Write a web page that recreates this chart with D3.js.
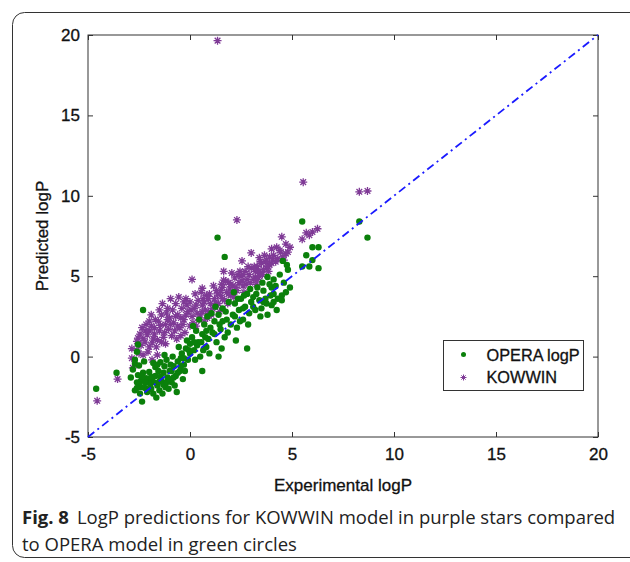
<!DOCTYPE html>
<html>
<head>
<meta charset="utf-8">
<script src="https://cdn.jsdelivr.net/npm/d3@7"></script>
<style>
  body { margin: 0; background: #fff; }
  .tick text, .lbl { font-family: "Liberation Sans", Arial, Helvetica, sans-serif; font-size: 17px; fill: #111; stroke: #111; stroke-width: 0.3px; }
  .legend-text { font-size: 16.3px; }
  .tick line { stroke: #333; }
  .caption { font-family: "Open Sans", "Noto Sans", sans-serif; font-size: 18.5px; fill: #222; }
</style>
</head>
<body>
<div id="chart"></div>
<script>
// axis ticks
const xTicks = [-5, 0, 5, 10, 15, 20];
const yTicks = [-5, 0, 5, 10, 15, 20];

// OPERA logP: [experimental, predicted]
const operaPoints = [
  [-4.6,-2.0],[-3.6,-1.0],[-2.3,2.9],[1.35,7.4],[1.7,6.2],[5.5,8.4],[8.3,8.4],[8.7,7.4],
  [6.0,6.8],[6.3,6.8],[5.7,6.3],[6.0,6.0],[5.5,5.6],[5.85,5.6],[6.3,5.5],[4.75,5.7],
  [4.55,5.95],[4.8,5.4],[4.1,4.8],[3.8,4.95],[4.0,4.3],[0.6,-0.9],[1.4,0.0],[2.8,0.5],[2.25,1.0],
  [-2.8,-0.8],[-2.7,-0.2],[-2.7,-0.45],[-2.6,-1.6],[-2.55,-1.15],[-2.7,-2.1],[-2.45,-2.3],[-2.2,-1.95],
  [-2.35,-2.8],[-2.5,-0.55],[-2.6,0.3],[-2.4,-1.5],[-2.3,-1.0],[-2.1,-2.2],[-2.0,-1.6],[-2.55,0.75],
  [-2.25,-0.3],[-2.9,-1.3],[-2.15,-1.35],[-2.4,-1.9],
  [-1.86,-1.45],[-2.0,-0.95],[-1.7,-0.65],[-1.45,-0.35],[-1.9,-2.0],[-1.8,-2.3],[-1.6,-1.8],[-1.5,-2.1],
  [-1.4,-1.5],[-1.3,-1.0],[-1.2,-1.9],[-1.1,-1.3],[-1.7,-1.2],[-1.55,-0.9],[-1.25,-0.6],[-1.05,-2.0],
  [-1.35,-2.3],[-1.95,-1.7],[-1.15,-0.2],[-1.65,-2.55],[-1.0,-0.9],[-1.45,-1.25],[-1.8,-0.4],[-1.25,0.1],
  [-0.9,-1.6],[-0.8,-0.6],[-0.7,-1.2],[-0.6,-0.3],[-0.5,-0.9],[-0.4,0.2],[-0.3,-0.5],[-0.2,0.5],
  [-0.1,-0.2],[0.0,0.8],[-0.85,0.0],[-0.75,-1.8],[-0.55,0.6],[-0.35,-1.4],[-0.15,1.0],[-0.95,-0.5],
  [-0.65,-2.2],[-0.25,-0.9],[0.0,0.2],[-0.45,-0.1],
  [0.1,1.2],[0.2,0.4],[0.3,1.6],[0.4,0.9],[0.5,0.0],[0.6,1.4],[0.7,2.0],[0.8,0.6],[0.9,1.1],[1.0,1.8],
  [0.25,-0.2],[0.45,2.3],[0.65,0.4],[0.85,2.5],[0.15,1.9],[0.95,0.2],[0.35,0.7],[0.75,1.2],
  [1.1,1.5],[1.2,2.2],[1.3,0.9],[1.4,2.6],[1.5,1.7],[1.6,3.0],[1.7,1.2],[1.8,2.3],[1.9,3.4],[2.0,2.0],
  [1.25,3.1],[1.55,0.5],[1.85,1.5],[1.45,2.0],[1.75,2.8],[1.05,2.7],
  [2.1,2.6],[2.2,3.3],[2.3,1.8],[2.4,2.9],[2.5,3.6],[2.6,2.3],[2.7,3.1],[2.8,3.9],[2.9,2.7],[3.0,3.4],
  [2.15,4.0],[2.45,2.2],[2.65,3.8],[2.85,2.0],[2.35,3.6],[2.95,4.2],
  [3.1,3.7],[3.2,2.9],[3.3,4.3],[3.4,3.5],[3.5,3.0],[3.6,4.1],[3.7,3.6],[3.8,2.6],[3.9,4.5],[4.0,3.2],
  [3.25,3.9],[3.55,4.6],[3.75,3.3],[3.95,3.8],[3.45,2.5],
  [4.1,3.9],[4.2,4.4],[4.3,3.6],[4.5,3.5],[4.5,3.8],[4.6,4.6],[4.7,4.0],[4.4,5.1],[4.9,4.3],[4.25,2.9],
  [-2.5,-1.75],[-2.2,-1.6],[-2.0,-2.05],[-1.75,-1.6],[-1.5,-1.55],[-1.3,-1.75],[-1.15,-1.6],[-1.0,-1.4],
  [-0.8,-1.3],[-0.6,-1.0],[-0.45,-0.6],[-0.3,-0.1],[-0.05,0.4],[0.2,0.9],[0.55,0.9],[-2.35,-1.25],
  [-1.9,-1.25],[-1.6,-0.5],[-0.9,-0.9],[-2.6,-1.95],[0.8,1.6],[1.2,1.4],[1.6,2.2],[2.2,2.5],[2.6,3.0],
  [3.1,3.1],[3.6,3.4],[4.1,3.4]
];

// KOWWIN: [experimental, predicted]
const kowwinPoints = [
  [1.35,19.65],[2.3,8.5],[5.55,10.85],[8.3,10.25],[8.7,10.3],[-4.55,-2.75],[-3.55,-1.4],[0.1,4.8],
  [0.6,4.25],[6.25,7.95],[6.0,7.75],[5.85,7.55],[5.7,7.7],[5.5,7.3],[4.5,7.45],[4.7,7.0],[4.8,6.5],
  [4.45,6.5],[4.0,6.7],[4.55,6.2],[3.4,6.15],[3.45,5.9],[3.0,6.45],[4.05,6.0],[3.9,5.7],[3.75,5.5],
  [3.45,5.2],[3.2,4.95],[1.65,5.3],[1.65,4.75],[2.55,5.95],[-2.85,-0.1],[-2.8,-0.7],[-2.85,0.5],
  [-2.55,1.15],[-2.1,1.35],[-2.3,0.1],[-2.06,0.3],[-2.4,0.7],[-2.6,0.4],[-2.2,0.9],[-2.0,1.6],
  [-2.45,1.4],[-2.15,2.0],[-2.6,0.95],[-2.35,1.8],[-2.0,0.6],
  [-1.86,0.85],[-1.6,1.05],[-1.6,0.1],[-1.86,-0.2],[-1.9,1.9],[-1.7,2.3],[-1.5,1.6],[-1.4,2.6],
  [-1.3,1.2],[-1.2,2.0],[-1.1,3.0],[-1.75,1.4],[-1.5,2.9],[-1.2,0.8],[-1.05,1.7],[-1.9,2.6],
  [-1.35,3.3],[-1.65,0.6],[-1.0,2.4],[-1.45,1.95],
  [-0.9,1.3],[-0.8,2.1],[-0.7,3.3],[-0.6,2.6],[-0.5,1.8],[-0.4,3.0],[-0.3,2.3],[-0.2,3.6],[-0.1,2.8],
  [0.0,1.9],[-0.85,2.9],[-0.55,3.7],[-0.25,1.5],[-0.65,1.1],[-0.15,3.2],[-0.95,3.6],[-0.45,2.4],
  [0.0,3.4],[-0.75,1.6],[-0.35,2.0],
  [0.1,2.5],[0.2,3.0],[0.3,1.9],[0.4,3.5],[0.5,2.6],[0.6,3.2],[0.7,2.2],[0.8,3.8],[0.9,2.8],[1.0,3.3],
  [0.25,3.9],[0.55,4.0],[0.15,2.1],[0.75,2.9],[0.95,3.9],[0.35,2.7],[0.65,3.6],[0.85,2.4],
  [1.1,3.0],[1.2,3.6],[1.3,4.1],[1.4,3.3],[1.5,3.8],[1.6,4.3],[1.7,3.5],[1.8,4.0],[1.9,4.6],[2.0,3.8],
  [1.15,4.4],[1.45,2.8],[1.75,4.7],[1.95,4.2],[1.35,3.9],[1.55,4.5],[1.85,3.3],
  [2.1,4.4],[2.2,4.9],[2.3,4.1],[2.4,4.6],[2.5,5.0],[2.6,4.4],[2.7,5.3],[2.8,4.8],[2.9,5.1],[3.0,5.5],
  [2.15,3.7],[2.45,5.3],[2.65,4.0],[2.85,5.6],[2.35,5.1],[2.75,4.5],[2.05,5.2],
  [3.1,4.8],[3.2,5.3],[3.3,5.6],[3.4,5.0],[3.5,5.8],[3.6,5.4],[3.7,5.9],[3.8,5.6],[3.9,6.2],[4.0,5.8],
  [3.25,4.5],[3.55,5.1],[3.85,5.3],[3.65,6.3],
  [4.1,6.3],[4.2,5.9],[4.3,6.1],[4.4,6.6],[4.6,6.0],[4.7,6.4],[4.9,6.8],[4.25,6.8],
  [-2.5,0.2],[-2.3,1.1],[-2.0,2.2],[-1.8,1.1],[-1.55,2.2],[-1.25,1.5],[-1.1,2.3],[-0.95,2.0],
  [-0.7,2.5],[-0.45,1.3],[-0.2,2.6],[0.05,2.9],[0.3,3.2],[0.45,2.3],[0.7,3.4],[1.05,2.6],[1.25,3.4],
  [1.6,3.6],[1.9,3.9],[2.25,4.3],[2.55,4.7],[2.95,4.6],[3.15,5.6],[3.35,5.3],[3.75,6.0],[-1.75,1.8],
  [-1.4,0.9],[-0.6,1.9],[-0.3,3.4],[0.6,2.8],[-2.2,1.6],[-1.15,2.7],[0.9,3.6],[1.5,4.1],[2.0,4.5],
  [2.6,5.1],[3.3,4.8]
];

const seriesNames = ['OPERA logP', 'KOWWIN'];
const identityLine = [[-5, -5], [20, 20]];

const width = 630, height = 562;
const margin = { left: 88, top: 35, right: 32, bottom: 125 };
const green = '#0b800b', purple = '#7f3a96';
const fmt = d => String(d); // plain hyphen minus like the original

const svg = d3.select('#chart').append('svg')
    .attr('width', width)
    .attr('height', height);

// rounded frame around figure + caption
svg.append('rect')
    .attr('x', 12.5).attr('y', 12.5)
    .attr('width', 630).attr('height', 545)
    .attr('rx', 12)
    .attr('fill', 'none')
    .attr('stroke', '#333')
    .attr('stroke-width', 1);

const x = d3.scaleLinear().domain([-5, 20]).range([margin.left, width - margin.right]);
const y = d3.scaleLinear().domain([-5, 20]).range([height - margin.bottom, margin.top]);

const tickLen = 5;
svg.append('g')
    .attr('transform', `translate(0,${y(-5)})`)
    .call(d3.axisBottom(x).tickValues(xTicks).tickSize(-tickLen).tickPadding(11).tickFormat(fmt))
    .call(g => g.select('.domain').remove());
svg.append('g')
    .attr('transform', `translate(0,${y(20)})`)
    .call(d3.axisTop(x).tickValues(xTicks).tickSize(-tickLen).tickFormat(''))
    .call(g => g.select('.domain').remove());
svg.append('g')
    .attr('transform', `translate(${x(-5)},0)`)
    .call(d3.axisLeft(y).tickValues(yTicks).tickSize(-tickLen).tickPadding(8).tickFormat(fmt))
    .call(g => g.select('.domain').remove());
svg.append('g')
    .attr('transform', `translate(${x(20)},0)`)
    .call(d3.axisRight(y).tickValues(yTicks).tickSize(-tickLen).tickFormat(''))
    .call(g => g.select('.domain').remove());

svg.append('rect')
    .attr('x', x(-5)).attr('y', y(20))
    .attr('width', x(20) - x(-5)).attr('height', y(-5) - y(20))
    .attr('fill', 'none').attr('stroke', '#333').attr('stroke-width', 1);

// star marker (MATLAB '*')
function starPath(r) {
    const d = r * Math.SQRT1_2;
    return `M${-r},0L${r},0M0,${-r}L0,${r}M${-d},${-d}L${d},${d}M${-d},${d}L${d},${-d}`;
}

svg.append('g')
    .selectAll('path').data(kowwinPoints)
    .enter()
    .append('path')
    .attr('d', starPath(4))
    .attr('transform', d => `translate(${x(d[0])},${y(d[1])})`)
    .attr('stroke', purple)
    .attr('stroke-width', 1.3)
    .attr('fill', 'none');

svg.append('g')
    .selectAll('circle').data(operaPoints)
    .enter()
    .append('circle')
    .attr('cx', d => x(d[0]))
    .attr('cy', d => y(d[1]))
    .attr('r', 3.2)
    .attr('fill', green);

svg.append('path')
    .datum(identityLine)
    .attr('d', d3.line().x(d => x(d[0])).y(d => y(d[1])))
    .attr('stroke', '#1a1aff')
    .attr('stroke-width', 1.8)
    .attr('stroke-dasharray', '8,4,2,4')
    .attr('fill', 'none');

// axis titles
svg.append('text')
    .attr('class', 'lbl')
    .attr('x', (x(-5) + x(20)) / 2).attr('y', 491)
    .attr('text-anchor', 'middle')
    .text('Experimental logP');
svg.append('text')
    .attr('class', 'lbl')
    .attr('transform', `translate(48,${(y(-5) + y(20)) / 2}) rotate(-90)`)
    .attr('text-anchor', 'middle')
    .text('Predicted logP');

// legend
const legend = svg.append('g').attr('transform', 'translate(443.5,340.5)');
legend.append('rect')
    .attr('width', 140).attr('height', 50)
    .attr('fill', '#fff').attr('stroke', '#333');
legend.append('circle').attr('cx', 20).attr('cy', 14).attr('r', 2.5).attr('fill', green);
legend.append('path').attr('d', starPath(3)).attr('transform', 'translate(20,37)')
    .attr('stroke', purple).attr('fill', 'none');
legend.selectAll('text.lab').data(seriesNames)
    .enter()
    .append('text')
    .attr('class', 'lbl legend-text')
    .attr('x', 43)
    .attr('y', (d, i) => 20 + i * 22)
    .text(d => d);

// caption
const cap = svg.append('text').attr('class', 'caption').attr('x', 22).attr('y', 524);
cap.append('tspan').style('font-weight', 'bold').text('Fig. 8');
cap.append('tspan').attr('dx', 8).text('LogP predictions for KOWWIN model in purple stars compared');
svg.append('text').attr('class', 'caption').attr('x', 22).attr('y', 551)
    .text('to OPERA model in green circles');
</script>
</body>
</html>
